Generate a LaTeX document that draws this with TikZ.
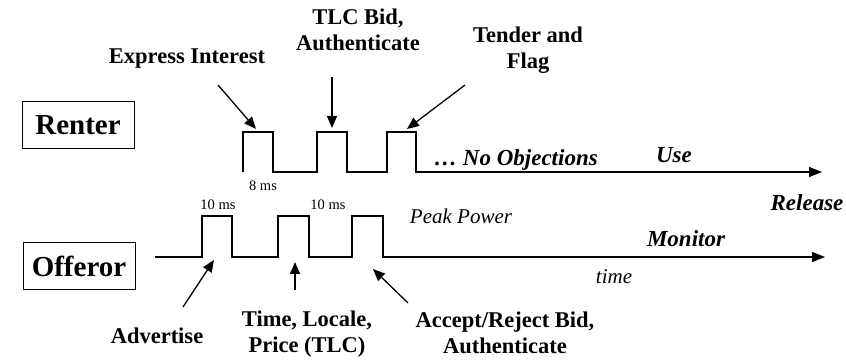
\documentclass[tikz,border=0pt]{standalone}
\usepackage{fontspec}
\setmainfont{Liberation Serif}
\usetikzlibrary{arrows.meta}

\begin{document}
\begin{tikzpicture}[x=1pt,y=-1pt,line join=miter,
  lbl/.style={font=\bfseries\fontsize{22.5}{26}\selectfont,align=center,inner sep=0pt},
  party/.style={draw,line width=1pt,font=\bfseries\fontsize{29}{30}\selectfont,minimum width=112pt,minimum height=47pt},
  ms/.style={font=\fontsize{14.5}{15}\selectfont,inner sep=0pt},
  act/.style={font=\bfseries\itshape\fontsize{23}{24}\selectfont,inner sep=0pt},
  note/.style={font=\itshape\fontsize{21}{22}\selectfont,inner sep=0pt},
  wave/.style={line width=1.4pt,-{Triangle[length=13pt,width=10pt]}},
  ptr/.style={line width=1.3pt,-{Triangle[length=12pt,width=10pt]}}]
\useasboundingbox (0,0) rectangle (846,363);

% the two parties
\node[party] (renter) at (78,125) {Renter};
\node[party] (offeror) at (79,266) {Offeror};

% renter pulses
\draw[wave] (243,172) -- (243,132) -- (273,132) -- (273,172) -- (317,172) -- (317,132)
  -- (347,132) -- (347,172) -- (387,172) -- (387,132) -- (416,132) -- (416,172) -- (822,172);
% offeror pulses
\draw[wave] (155,257) -- (202,257) -- (202,216) -- (232,216) -- (232,257) -- (278,257) -- (278,216)
  -- (309,216) -- (309,257) -- (352,257) -- (352,216) -- (383,216) -- (383,257) -- (825,257);

% renter side
\node[lbl] (express) at (187,59) {Express Interest};
\node[lbl] (tlcbid) at (358,30) {TLC Bid,\\Authenticate};
\node[lbl] (tender) at (528,50) {Tender and\\Flag};
\node[ms] (ms8) at (263,186) {8 ms};
\node[act,anchor=west] (noobj) at (434,160) {\dots\ No Objections};
\node[act] (use) at (674,155) {Use};

% offeror side
\node[ms] (ms10a) at (218,205) {10 ms};
\node[ms] (ms10b) at (328,205) {10 ms};
\node[note] (peak) at (461,216) {Peak Power};
\node[act] (release) at (807,203) {Release};
\node[act] (monitor) at (686,239) {Monitor};
\node[note] (time) at (614,277) {time};
\node[lbl] (advertise) at (157,336) {Advertise};
\node[lbl] (tlc) at (307,334) {Time, Locale,\\Price (TLC)};
\node[lbl] (accept) at (505,333) {Accept/Reject Bid,\\Authenticate};

% arrows
\coordinate (e1) at (218,85);  \coordinate (e2) at (256,129);
\coordinate (b1) at (332,77);  \coordinate (b2) at (332,128);
\coordinate (f1) at (465,85);  \coordinate (f2) at (407,129);
\coordinate (a1) at (183,307); \coordinate (a2) at (214,260);
\coordinate (l1) at (295,290); \coordinate (l2) at (295,262);
\coordinate (r1) at (408,303); \coordinate (r2) at (373,269);
\draw[ptr] (e1) -- (e2);
\draw[ptr] (b1) -- (b2);
\draw[ptr] (f1) -- (f2);
\draw[ptr] (a1) -- (a2);
\draw[ptr] (l1) -- (l2);
\draw[ptr] (r1) -- (r2);
\end{tikzpicture}
\end{document}
